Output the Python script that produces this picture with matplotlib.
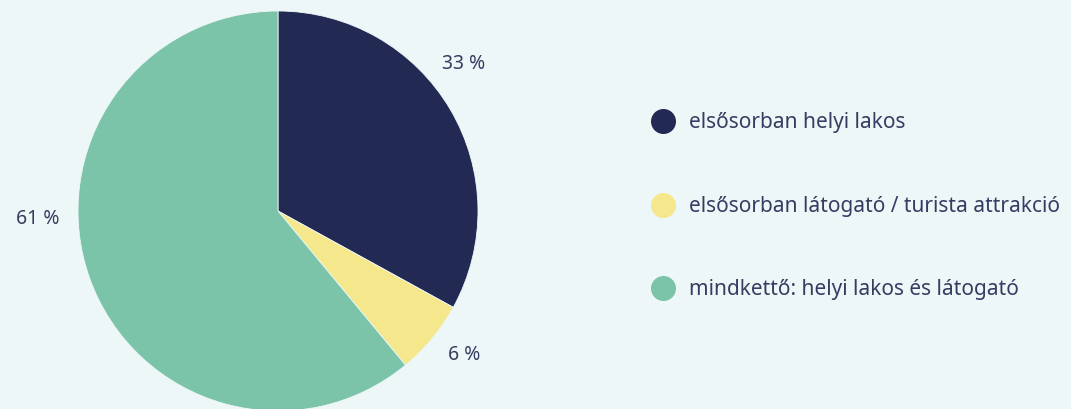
import matplotlib.pyplot as plt
from matplotlib.lines import Line2D

categories = ["elsősorban helyi lakos",
              "elsősorban látogató / turista attrakció",
              "mindkettő: helyi lakos és látogató"]
shares = [33, 6, 61]
colors = ["#222a54", "#f5e78c", "#7bc4a9"]

bg = "#eef7f7"
text_color = "#363d63"
plt.rcParams['font.family'] = ['Noto Sans', 'DejaVu Sans']

fig = plt.figure(figsize=(10.71, 4.09), dpi=100, facecolor=bg)
# axes sized so the pie radius is ~200 px, centred at (278, 211)
ax = fig.add_axes([78 / 1071, (409 - 211 - 200) / 409, 400 / 1071, 400 / 409])
ax.set_facecolor(bg)

wedges, texts = ax.pie(shares, colors=colors, startangle=90, counterclock=False,
                       labels=[f"{v} %" for v in shares], labeldistance=1.2,
                       wedgeprops=dict(edgecolor=bg, linewidth=0.6),
                       textprops=dict(color=text_color, fontsize=14))
ax.set_aspect('equal')
ax.set_xlim(-1, 1)
ax.set_ylim(-1, 1)

# nudge the value labels to where the original puts them
label_pos = [(0.93, 0.735), (0.93, -0.72), (-1.2, -0.04)]
for t, (x, y) in zip(texts, label_pos):
    t.set_position((x, y))
    t.set_ha('center')
    t.set_va('center')

handles = [Line2D([], [], marker='o', linestyle='', markersize=17,
                  markerfacecolor=c, markeredgecolor=c) for c in colors]
leg = fig.legend(handles, categories, loc='upper left',
                 bbox_to_anchor=(642 / 1071, 1 - 104 / 409),
                 frameon=False, fontsize=15, labelspacing=3.0,
                 handletextpad=0.65, handlelength=1.2, borderaxespad=0)
for t in leg.get_texts():
    t.set_color(text_color)

fig.savefig("out.png", dpi=100, facecolor=bg)
